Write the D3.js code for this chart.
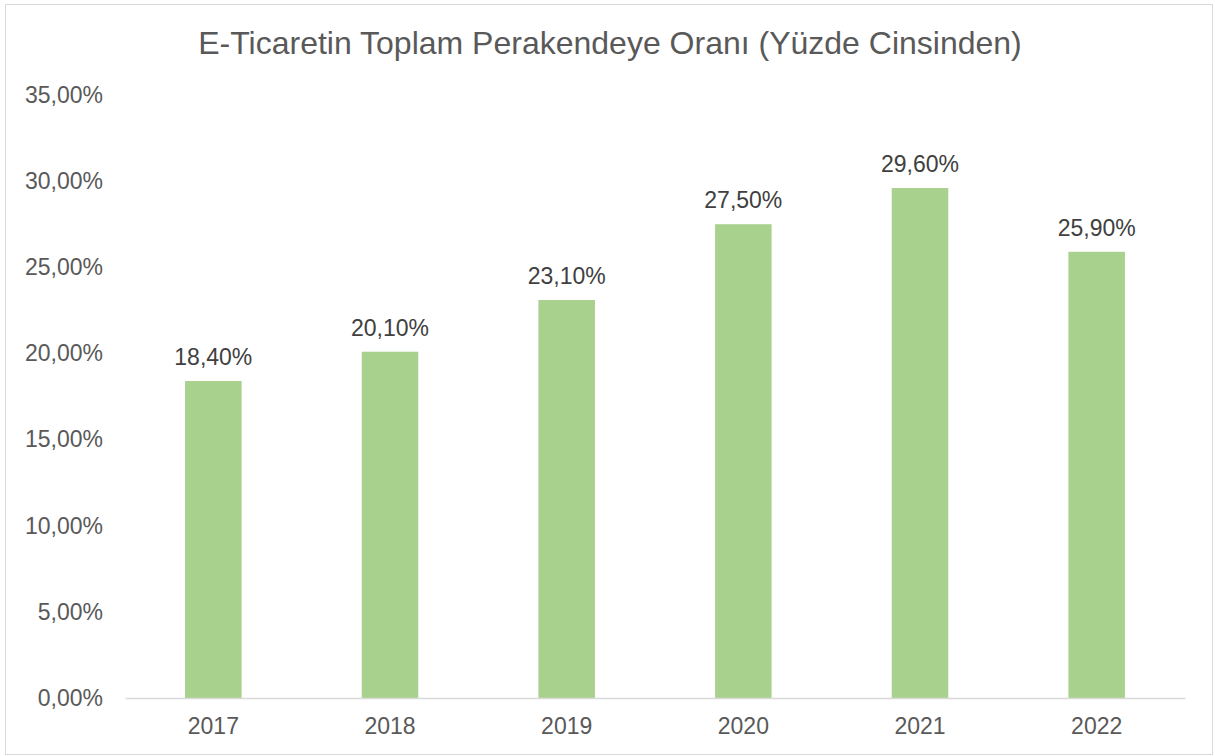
<!DOCTYPE html>
<html>
<head>
<meta charset="utf-8">
<script src="https://cdn.jsdelivr.net/npm/d3@7/dist/d3.min.js"></script>
<style>
  html, body { margin: 0; padding: 0; background: #ffffff; }
  svg { display: block; font-family: "Liberation Sans", Arial, sans-serif; }
</style>
</head>
<body>
<svg id="chart" width="1215" height="756"></svg>
<script>
const years = ["2017", "2018", "2019", "2020", "2021", "2022"];
const shares = [18.4, 20.1, 23.1, 27.5, 29.6, 25.9];
const yTicks = [0, 5, 10, 15, 20, 25, 30, 35];
const title = "E-Ticaretin Toplam Perakendeye Oranı (Yüzde Cinsinden)";

const fmt = v => v.toFixed(2).replace(".", ",") + "%";

const svg = d3.select("#chart");
const plot = { left: 125, right: 1185, top: 95, bottom: 698 };

// outer frame
svg.append("rect")
  .attr("x", 5.5).attr("y", 4.5)
  .attr("width", 1207).attr("height", 750)
  .attr("fill", "#ffffff")
  .attr("stroke", "#d9d9d9").attr("stroke-width", 1);

svg.append("text")
  .attr("x", 610).attr("y", 54)
  .attr("text-anchor", "middle")
  .attr("font-size", 32)
  .attr("fill", "#595959")
  .text(title);

const x = d3.scaleBand().domain(years).range([plot.left, plot.right]).padding(0);
const y = d3.scaleLinear().domain([0, 35]).range([plot.bottom, plot.top]);
const barW = x.bandwidth() * 0.32;

// y axis labels (no axis line, no gridlines)
const yAxis = d3.axisLeft(y).tickValues(yTicks).tickFormat(fmt).tickSize(0).tickPadding(0);
const gy = svg.append("g").attr("transform", `translate(${plot.left - 22},0)`).call(yAxis);
gy.select(".domain").remove();
gy.selectAll("text")
  .attr("font-size", 23)
  .attr("fill", "#595959")
  .attr("font-family", "Liberation Sans, Arial, sans-serif");

// bars
svg.append("g").selectAll("rect")
  .data(years)
  .join("rect")
  .attr("x", (d) => x(d) + x.bandwidth() / 2 - barW / 2)
  .attr("width", barW)
  .attr("y", (d, i) => y(shares[i]))
  .attr("height", (d, i) => y(0) - y(shares[i]))
  .attr("fill", "#a9d18e");

// x axis
const xAxis = d3.axisBottom(x).tickSize(0).tickPadding(0);
const gx = svg.append("g").attr("transform", `translate(0,${plot.bottom})`).call(xAxis);
gx.select(".domain").attr("stroke", "#d9d9d9").attr("stroke-width", 1.5);
gx.selectAll("text")
  .attr("dy", null)
  .attr("y", 36)
  .attr("font-size", 23)
  .attr("fill", "#595959")
  .attr("font-family", "Liberation Sans, Arial, sans-serif");

// value labels
svg.append("g").selectAll("text")
  .data(years)
  .join("text")
  .attr("x", (d) => x(d) + x.bandwidth() / 2)
  .attr("y", (d, i) => y(shares[i]) - 16)
  .attr("text-anchor", "middle")
  .attr("font-size", 23)
  .attr("fill", "#404040")
  .text((d, i) => fmt(shares[i]));
</script>
</body>
</html>
